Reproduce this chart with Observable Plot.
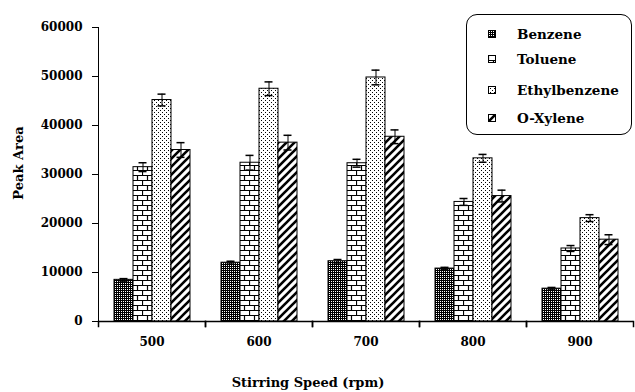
<!DOCTYPE html>
<html><head><meta charset="utf-8">
<script src="https://cdn.jsdelivr.net/npm/d3@7"></script>
<script src="https://cdn.jsdelivr.net/npm/@observablehq/plot@0.6"></script>
<style>
body{margin:0;background:#fff;}
#wrap{position:relative;width:635px;height:392px;font-family:"DejaVu Serif";font-weight:bold;color:#000;overflow:hidden;}
#wrap svg.chart{position:absolute;left:0;top:0;}
.lbl{position:absolute;font-size:13px;white-space:nowrap;}
#legend{position:absolute;left:466px;top:14px;width:164px;height:119px;border:1.5px solid #000;border-radius:11px;background:#fff;}
.item{position:absolute;left:0;height:16px;display:flex;align-items:center;font-size:13.5px;}
.item svg{margin-left:21px;margin-right:21px;}
</style></head><body><div id="wrap"></div>
<script>
const speeds = ["500", "600", "700", "800", "900"];
const seriesNames = ["Benzene", "Toluene", "Ethylbenzene", "O-Xylene"];
const benzene = [8500, 12000, 12300, 10800, 6700];
const benzeneErr = [250, 300, 350, 250, 250];
const toluene = [31500, 32400, 32300, 24400, 14900];
const tolueneErr = [900, 1500, 800, 700, 600];
const ethylbenzene = [45200, 47500, 49800, 33300, 21100];
const ethylbenzeneErr = [1200, 1400, 1500, 800, 700];
const oxylene = [35000, 36500, 37700, 25600, 16700];
const oxyleneErr = [1500, 1500, 1400, 1200, 1000];
const yTicks = [0, 10000, 20000, 30000, 40000, 50000, 60000];
const xTitle = "Stirring Speed (rpm)";
const yTitle = "Peak Area";

const seriesValues = [benzene, toluene, ethylbenzene, oxylene];
const seriesErrs = [benzeneErr, tolueneErr, ethylbenzeneErr, oxyleneErr];
const rows = [];
speeds.forEach((s, i) => seriesNames.forEach((n, j) => {
  rows.push({speed: s, series: n, value: seriesValues[j][i], err: seriesErrs[j][i]});
}));
const patIds = ["pat-benz", "pat-tol", "pat-eth", "pat-oxy"];

const chart = Plot.plot({
  width: 635, height: 392,
  marginLeft: 96, marginRight: 1, marginTop: 27, marginBottom: 71,
  style: {fontFamily: "DejaVu Serif", fontWeight: "bold", fontSize: "12px", color: "#000", background: "transparent"},
  fx: {domain: speeds, padding: 0, label: null, axis: "bottom", tickSize: 0, tickPadding: 16},
  x: {domain: seriesNames, paddingInner: 0, paddingOuter: 0.72, axis: null},
  y: {domain: [0, 60000], ticks: yTicks, tickFormat: d3.format("d"), tickSize: 6, tickPadding: 10, label: null, line: true},
  color: {domain: seriesNames, range: patIds.map(d => `url(#${d})`)},
  marks: [
    Plot.barY(rows, {fx: "speed", x: "series", y: "value", fill: "series", stroke: "#000", strokeWidth: 1}),
    Plot.ruleX(rows, {fx: "speed", x: "series", y1: d => d.value - d.err, y2: d => d.value + d.err, stroke: "#000", strokeWidth: 1}),
    Plot.tickY(rows, {fx: "speed", x: "series", y: d => d.value - d.err, insetLeft: 5.5, insetRight: 5.5, stroke: "#000", strokeWidth: 1.5}),
    Plot.tickY(rows, {fx: "speed", x: "series", y: d => d.value + d.err, insetLeft: 5.5, insetRight: 5.5, stroke: "#000", strokeWidth: 1.5}),
    Plot.ruleY([0], {stroke: "#000", strokeWidth: 1.5}),
    Plot.frame({anchor: "left", insetTop: 294, insetBottom: -5, stroke: "#000", strokeWidth: 1.5}),
    Plot.frame({anchor: "right", insetTop: 294, insetBottom: -5, stroke: "#000", strokeWidth: 1.5})
  ]
});
chart.classList.add("chart");

const defs = d3.select(chart).insert("defs", ":first-child");
// Benzene: dense dark stipple
const p0 = defs.append("pattern").attr("id", patIds[0]).attr("patternUnits", "userSpaceOnUse").attr("width", 2).attr("height", 2);
p0.append("rect").attr("width", 2).attr("height", 2).attr("fill", "#000");
p0.append("rect").attr("x", 1).attr("y", 1).attr("width", 1).attr("height", 1).attr("fill", "#fff");
// Toluene: bricks
const p1 = defs.append("pattern").attr("id", patIds[1]).attr("patternUnits", "userSpaceOnUse").attr("width", 10).attr("height", 10);
p1.append("rect").attr("width", 10).attr("height", 10).attr("fill", "#fff");
p1.append("path").attr("d", "M0,0.5H10M0,5.5H10M0.5,0V5M5.5,5V10").attr("stroke", "#000").attr("stroke-width", 1.2).attr("fill", "none");
// Ethylbenzene: sparse dots
const p2 = defs.append("pattern").attr("id", patIds[2]).attr("patternUnits", "userSpaceOnUse").attr("width", 4).attr("height", 4);
p2.append("rect").attr("width", 4).attr("height", 4).attr("fill", "#fff");
p2.append("rect").attr("x", 0).attr("y", 0).attr("width", 1).attr("height", 1).attr("fill", "#000");
p2.append("rect").attr("x", 2).attr("y", 2).attr("width", 1).attr("height", 1).attr("fill", "#000");
// O-Xylene: diagonal stripes
const p3 = defs.append("pattern").attr("id", patIds[3]).attr("patternUnits", "userSpaceOnUse").attr("width", 8).attr("height", 8);
p3.append("rect").attr("width", 8).attr("height", 8).attr("fill", "#fff");
p3.append("path").attr("d", "M-2,2L2,-2M0,8L8,0M6,10L10,6").attr("stroke", "#000").attr("stroke-width", 2.6).attr("fill", "none");

const wrap = document.getElementById("wrap");
wrap.appendChild(chart);

const xl = document.createElement("div");
xl.className = "lbl"; xl.textContent = xTitle;
xl.style.left = "308px"; xl.style.top = "382px"; xl.style.transform = "translate(-50%,-50%)";
wrap.appendChild(xl);
const yl = document.createElement("div");
yl.className = "lbl"; yl.textContent = yTitle;
yl.style.left = "18px"; yl.style.top = "163px"; yl.style.transform = "translate(-50%,-50%) rotate(-90deg)";
wrap.appendChild(yl);

const legend = document.createElement("div");
legend.id = "legend";
const rowCenters = [19, 44, 75, 103];
seriesNames.forEach((n, j) => {
  const it = document.createElement("div");
  it.className = "item";
  it.style.top = (rowCenters[j] - 8) + "px";
  it.innerHTML = `<svg width="8" height="8"><rect x="0.5" y="0.5" width="7" height="7" fill="url(#${patIds[j]})" stroke="#000" stroke-width="1"/></svg><span>${n}</span>`;
  legend.appendChild(it);
});
wrap.appendChild(legend);
</script></body></html>
